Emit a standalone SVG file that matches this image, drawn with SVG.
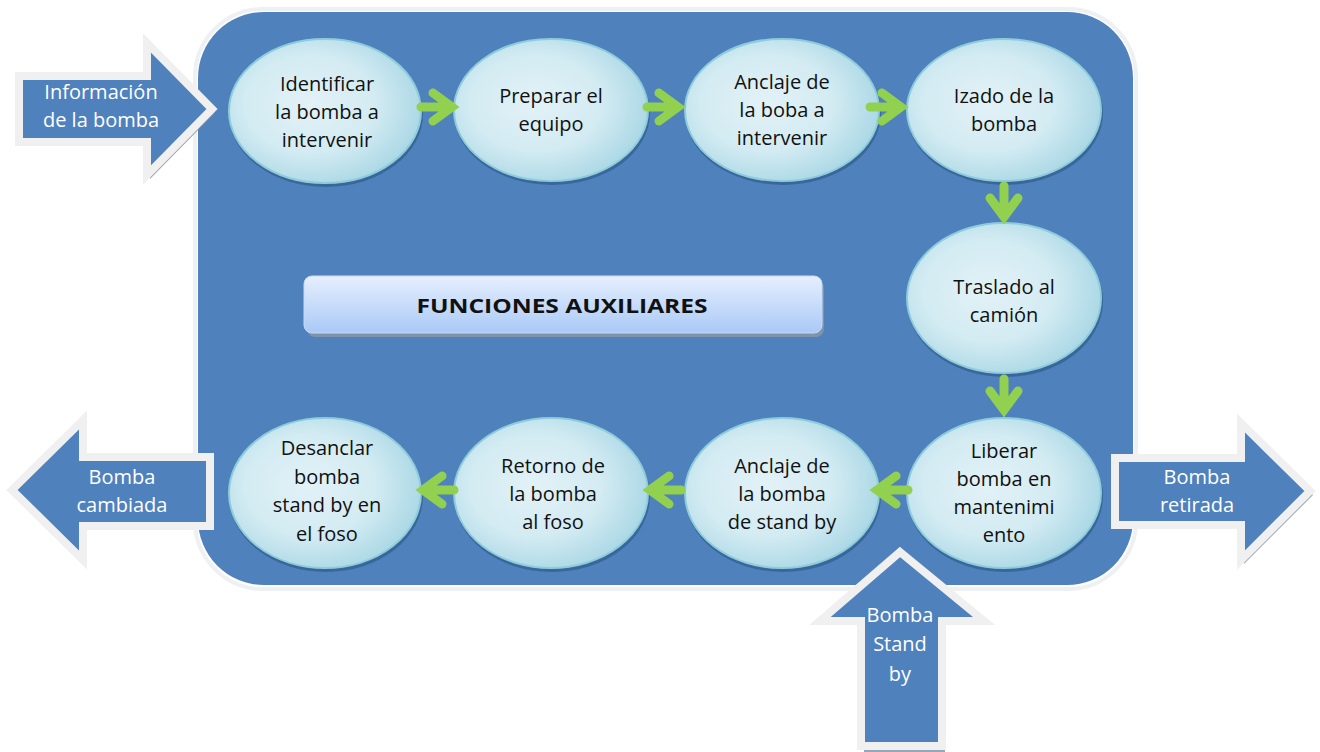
<svg xmlns="http://www.w3.org/2000/svg" xmlns:xlink="http://www.w3.org/1999/xlink" width="1320" height="752" viewBox="0 0 1320 752">
  <defs>
    <radialGradient id="bubble" cx="42%" cy="45%" r="62%">
      <stop offset="0" stop-color="#E2F2F7"/>
      <stop offset="0.55" stop-color="#D3EBF2"/>
      <stop offset="1" stop-color="#A6D6E4"/>
    </radialGradient>
    <linearGradient id="title" x1="0" y1="0" x2="0" y2="1">
      <stop offset="0" stop-color="#E6EFFD"/>
      <stop offset="1" stop-color="#A9C9F7"/>
    </linearGradient>
    <!-- green chevron connector, tip at origin, pointing along +x -->
    <g id="ga">
      <path d="M-36 0 H-6 M-24 -14 L-5 0 L-24 14" fill="none" stroke="#92D050" stroke-width="9" stroke-linecap="round" stroke-linejoin="miter"/>
    </g>
    <style>
      .node { fill: url(#bubble); stroke: #8ECCDC; stroke-width: 2; }
      .nshadow { fill: #2C5684; opacity: 0.6; }
      .lbl { font-family: "Open Sans", "Liberation Sans", sans-serif; font-size: 20px; fill: #111111; text-anchor: middle; }
      .wlbl { font-family: "Open Sans", "Liberation Sans", sans-serif; font-size: 20px; fill: #FFFFFF; text-anchor: middle; }
      .barrow { fill: #4F81BD; stroke: #F0F0F0; stroke-width: 8; stroke-linejoin: miter; }
      .bshadow { fill: #7D8EA6; opacity: 0.8; }
    </style>
  </defs>

  <rect width="1320" height="752" fill="#FFFFFF"/>

  <!-- main panel -->
  <g id="panel">
    <rect x="195" y="9" width="941" height="580" rx="68" fill="none" stroke="#EEF1F4" stroke-width="4"/>
    <rect x="198" y="12" width="935" height="573" rx="66" fill="#4F81BD"/>
  </g>

  <!-- title box -->
  <g id="title-box">
    <rect x="307" y="280" width="517" height="57" rx="8" fill="#7F93AD"/>
    <rect x="304" y="276" width="518" height="57" rx="8" fill="url(#title)" stroke="#C8DAF5" stroke-width="1"/>
    <text x="562" y="313" font-family="'Open Sans', 'Liberation Sans', sans-serif" font-size="20" font-weight="bold" fill="#111111" text-anchor="middle" textLength="291" lengthAdjust="spacingAndGlyphs">FUNCIONES AUXILIARES</text>
  </g>

  <!-- process steps -->
  <g id="n1">
    <ellipse class="nshadow" cx="326" cy="114" rx="97" ry="73"/>
    <ellipse class="node" cx="325" cy="111" rx="96" ry="72"/>
    <text class="lbl" x="327" y="91">Identificar</text>
    <text class="lbl" x="327" y="119">la bomba a</text>
    <text class="lbl" x="327" y="147">intervenir</text>
  </g>
  <g id="n2">
    <ellipse class="nshadow" cx="552" cy="113" rx="98" ry="72"/>
    <ellipse class="node" cx="551" cy="110" rx="97" ry="71"/>
    <text class="lbl" x="551" y="103">Preparar el</text>
    <text class="lbl" x="551" y="131">equipo</text>
  </g>
  <g id="n3">
    <ellipse class="nshadow" cx="783" cy="113" rx="98" ry="72"/>
    <ellipse class="node" cx="782" cy="110" rx="97" ry="71"/>
    <text class="lbl" x="782" y="89">Anclaje de</text>
    <text class="lbl" x="782" y="117">la boba a</text>
    <text class="lbl" x="782" y="145">intervenir</text>
  </g>
  <g id="n4">
    <ellipse class="nshadow" cx="1005" cy="113" rx="98" ry="72"/>
    <ellipse class="node" cx="1004" cy="110" rx="97" ry="71"/>
    <text class="lbl" x="1004" y="103">Izado de la</text>
    <text class="lbl" x="1004" y="131">bomba</text>
  </g>
  <g id="n5">
    <ellipse class="nshadow" cx="1005" cy="301" rx="98" ry="76"/>
    <ellipse class="node" cx="1004" cy="298" rx="97" ry="75"/>
    <text class="lbl" x="1004" y="294">Traslado al</text>
    <text class="lbl" x="1004" y="322">camión</text>
  </g>
  <g id="n6">
    <ellipse class="nshadow" cx="1005" cy="496" rx="98" ry="76"/>
    <ellipse class="node" cx="1004" cy="493" rx="97" ry="75"/>
    <text class="lbl" x="1004" y="458">Liberar</text>
    <text class="lbl" x="1004" y="486">bomba en</text>
    <text class="lbl" x="1004" y="514">mantenimi</text>
    <text class="lbl" x="1004" y="542">ento</text>
  </g>
  <g id="n7">
    <ellipse class="nshadow" cx="783" cy="496" rx="98" ry="76"/>
    <ellipse class="node" cx="782" cy="493" rx="97" ry="75"/>
    <text class="lbl" x="782" y="473">Anclaje de</text>
    <text class="lbl" x="782" y="501">la bomba</text>
    <text class="lbl" x="782" y="529">de stand by</text>
  </g>
  <g id="n8">
    <ellipse class="nshadow" cx="552" cy="496" rx="98" ry="76"/>
    <ellipse class="node" cx="551" cy="493" rx="97" ry="75"/>
    <text class="lbl" x="553" y="473">Retorno de</text>
    <text class="lbl" x="553" y="501">la bomba</text>
    <text class="lbl" x="553" y="529">al foso</text>
  </g>
  <g id="n9">
    <ellipse class="nshadow" cx="326" cy="496" rx="97" ry="76"/>
    <ellipse class="node" cx="325" cy="493" rx="96" ry="75"/>
    <text class="lbl" x="327" y="455">Desanclar</text>
    <text class="lbl" x="327" y="484">bomba</text>
    <text class="lbl" x="327" y="512">stand by en</text>
    <text class="lbl" x="327" y="541">el foso</text>
  </g>

  <!-- connectors between steps -->
  <g id="connectors">
    <use xlink:href="#ga" transform="translate(457,107)"/>
    <use xlink:href="#ga" transform="translate(683,107)"/>
    <use xlink:href="#ga" transform="translate(906,107)"/>
    <use xlink:href="#ga" transform="translate(1004,222) rotate(90)"/>
    <use xlink:href="#ga" transform="translate(1004,415) rotate(90)"/>
    <use xlink:href="#ga" transform="translate(872,490) rotate(180)"/>
    <use xlink:href="#ga" transform="translate(645,490) rotate(180)"/>
    <use xlink:href="#ga" transform="translate(418,490) rotate(180)"/>
  </g>

  <!-- input / output block arrows -->
  <g id="in-info">
    <polygon class="bshadow" points="22,80 150,80 150,47 215,113 150,179 150,146 22,146"/>
    <polygon class="barrow" points="19,76 147,76 147,43 212,109 147,175 147,142 19,142"/>
    <text class="wlbl" x="101" y="99">Información</text>
    <text class="wlbl" x="101" y="127">de la bomba</text>
  </g>
  <g id="out-cambiada">
    <polygon class="bshadow" points="15,494 86,424 86,461 213,461 213,530 86,530 86,564"/>
    <polygon class="barrow" points="12,490 83,420 83,457 210,457 210,526 83,526 83,560"/>
    <text class="wlbl" x="122" y="484">Bomba</text>
    <text class="wlbl" x="122" y="512">cambiada</text>
  </g>
  <g id="out-retirada">
    <polygon class="bshadow" points="1118,462 1244,462 1244,427 1313,495 1244,564 1244,529 1118,529"/>
    <polygon class="barrow" points="1115,458 1241,458 1241,423 1310,491 1241,560 1241,525 1115,525"/>
    <text class="wlbl" x="1197" y="484">Bomba</text>
    <text class="wlbl" x="1197" y="512">retirada</text>
  </g>
  <g id="in-standby">
    <polygon class="bshadow" points="903,556 987,625 945,625 945,752 864,752 864,625 823,625"/>
    <polygon class="barrow" points="900,552 984,621 942,621 942,746 861,746 861,621 820,621"/>
    <text class="wlbl" x="900" y="622">Bomba</text>
    <text class="wlbl" x="900" y="651">Stand</text>
    <text class="wlbl" x="900" y="681">by</text>
  </g>
</svg>
